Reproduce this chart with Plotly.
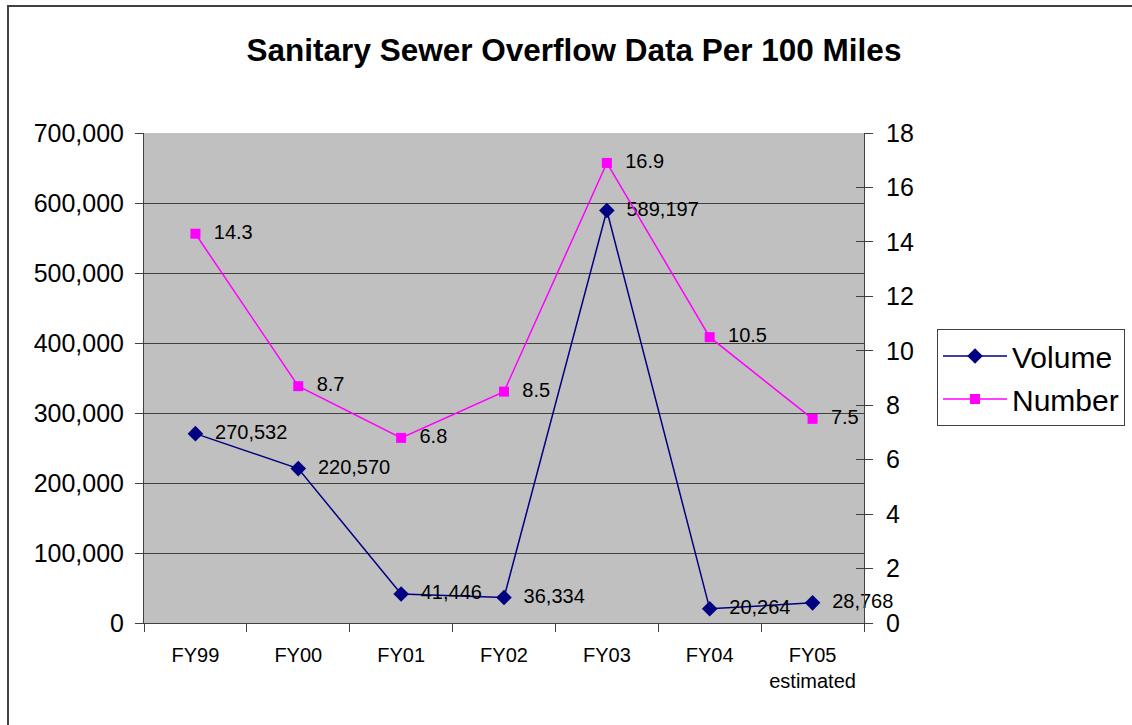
import plotly.graph_objects as go

categories = ["FY99", "FY00", "FY01", "FY02", "FY03", "FY04", "FY05<br>estimated"]
volume = [270532, 220570, 41446, 36334, 589197, 20264, 28768]
number = [14.3, 8.7, 6.8, 8.5, 16.9, 10.5, 7.5]
left_ticks = [0, 100000, 200000, 300000, 400000, 500000, 600000, 700000]
right_ticks = [0, 2, 4, 6, 8, 10, 12, 14, 16, 18]

W, H = 1132, 725
L, R, T, B = 144, 864, 133, 623
pw, ph = R - L, B - T

def px(x):
    return (x - L) / pw

def py(y):
    return (B - y) / ph

FONT = "Liberation Sans, Arial, sans-serif"
GRID = "#404040"

fig = go.Figure()
fig.add_trace(go.Scatter(
    x=categories, y=volume, name="Volume", mode="lines+markers+text",
    legendgroup="a",
    line=dict(color="#000080", width=1.5),
    marker=dict(symbol="diamond", size=12, color="#000080"),
    text=[f"\u00a0\u00a0{v:,}" for v in volume], textposition="middle right",
    textfont=dict(size=20, color="black", family=FONT),
    yaxis="y", cliponaxis=False,
))
fig.add_trace(go.Scatter(
    x=categories, y=number, name="Number", mode="lines+markers+text",
    legendgroup="b",
    line=dict(color="#FF00FF", width=1.5),
    marker=dict(symbol="square", size=10, color="#FF00FF"),
    text=[f"\u00a0\u00a0{v:.1f}" for v in number], textposition="middle right",
    textfont=dict(size=20, color="black", family=FONT),
    yaxis="y2", cliponaxis=False,
))
# helper trace for inner ticks on right axis
fig.add_trace(go.Scatter(x=[categories[0]], y=[0], yaxis="y3", mode="markers",
                         marker=dict(opacity=0), showlegend=False, hoverinfo="skip"))

fig.update_layout(
    width=W, height=H,
    margin=dict(l=L, r=W - R, t=T, b=H - B, autoexpand=False),
    paper_bgcolor="white", plot_bgcolor="#C0C0C0",
    font=dict(family=FONT, color="black"),
    title=dict(text="<b>Sanitary Sewer Overflow Data Per 100 Miles</b>",
               x=px(574), xref="paper", xanchor="center",
               y=1 - 50 / H, yref="container", yanchor="middle",
               font=dict(size=31.5, family=FONT, color="black")),
    xaxis=dict(type="category", range=[-0.5, 6.5], tickson="boundaries",
               ticks="outside", ticklen=8, tickcolor=GRID, showline=True,
               linecolor=GRID, linewidth=1, showgrid=False,
               tickfont=dict(size=20), ticklabelstandoff=14),
    yaxis=dict(range=[0, 700000], tickvals=left_ticks,
               ticktext=[f"{v:,}" for v in left_ticks],
               ticks="outside", ticklen=8, tickcolor=GRID,
               showline=True, linecolor=GRID, linewidth=1,
               showgrid=True, gridcolor=GRID, gridwidth=1,
               zeroline=False, tickfont=dict(size=25), ticklabelstandoff=6),
    yaxis2=dict(range=[0, 18], tickvals=right_ticks, overlaying="y", side="right",
                ticks="outside", ticklen=8, tickcolor=GRID,
                showline=True, linecolor=GRID, linewidth=1, showgrid=False,
                zeroline=False, tickfont=dict(size=25), ticklabelstandoff=8),
    yaxis3=dict(range=[0, 18], tickvals=right_ticks, overlaying="y", side="right",
                ticks="inside", ticklen=8, tickcolor=GRID, showticklabels=False,
                showline=False, showgrid=False, zeroline=False),
    legend=dict(x=px(937), y=py(329), xanchor="left", yanchor="top",
                bordercolor=GRID, borderwidth=1, bgcolor="white",
                font=dict(size=30, family=FONT, color="black"),
                itemwidth=64, tracegroupgap=1),
    showlegend=True,
)
fig.add_shape(type="rect", xref="paper", yref="paper",
              x0=px(8), y0=py(900), x1=px(1400), y1=py(6),
              line=dict(color="#404040", width=2), fillcolor="rgba(0,0,0,0)",
              layer="below")
fig.write_html("out.html")
